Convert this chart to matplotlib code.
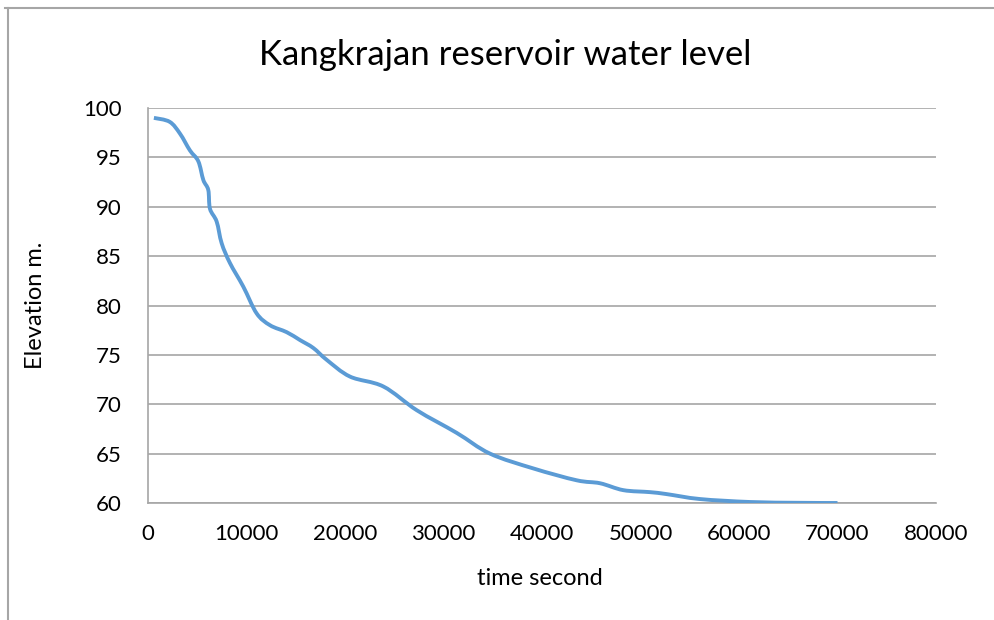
import matplotlib
matplotlib.use('Agg')
import matplotlib.pyplot as plt
from matplotlib.lines import Line2D
from matplotlib.path import Path
from matplotlib.patches import PathPatch

# Reservoir water level readings (time in seconds, elevation in m)
time_s = [600, 2200, 3250, 4260, 5110, 5620, 6120, 6290, 6970, 7480, 8320,
          9680, 11030, 12390, 14080, 15430, 16780, 18140, 20510, 23890,
          27280, 31340, 34720, 39120, 43520, 45890, 48260, 50960, 52660,
          56040, 61120, 66000, 70000]
elevation = [99.0, 98.6, 97.4, 95.7, 94.6, 92.7, 91.7, 89.8, 88.5, 86.3, 84.3,
             81.9, 79.2, 78.0, 77.3, 76.5, 75.7, 74.5, 72.8, 71.8,
             69.4, 67.1, 65.0, 63.5, 62.3, 62.0, 61.3, 61.1, 60.9,
             60.4, 60.1, 60.02, 60.0]

x_ticks = list(range(0, 80001, 10000))
y_ticks = list(range(60, 101, 5))

plt.rcParams['font.family'] = ['Lato', 'DejaVu Sans']

fig = plt.figure(figsize=(9.95, 6.2), dpi=100)
ax = fig.add_axes([148 / 995, 117 / 620, 788 / 995, 395 / 620])


# Excel-style smoothed line: Catmull-Rom segments drawn as cubic Beziers
def smooth_path(xs, ys, k=1 / 6):
    verts = [(xs[0], ys[0])]
    codes = [Path.MOVETO]
    n = len(xs)
    for i in range(n - 1):
        x0, y0 = xs[max(i - 1, 0)], ys[max(i - 1, 0)]
        x1, y1 = xs[i], ys[i]
        x2, y2 = xs[i + 1], ys[i + 1]
        x3, y3 = xs[min(i + 2, n - 1)], ys[min(i + 2, n - 1)]
        c1 = (x1 + (x2 - x0) * k, y1 + (y2 - y0) * k)
        c2 = (x2 - (x3 - x1) * k, y2 - (y3 - y1) * k)
        verts += [c1, c2, (x2, y2)]
        codes += [Path.CURVE4] * 3
    return Path(verts, codes)


ax.add_patch(PathPatch(smooth_path(time_s, elevation), facecolor='none',
                       edgecolor='#5B9BD5', lw=2.8, capstyle='butt', zorder=3))

ax.set_xlim(0, 80000)
ax.set_ylim(60, 100)
ax.set_xticks(x_ticks)
ax.set_yticks(y_ticks)
ax.tick_params(length=0, labelsize=16, colors='black')
ax.tick_params(axis='y', pad=19)
ax.tick_params(axis='x', pad=15)

ax.grid(axis='y', color='#a6a6a6', lw=1.2)
ax.set_axisbelow(True)
for side in ['top', 'right']:
    ax.spines[side].set_visible(False)
for side in ['left', 'bottom']:
    ax.spines[side].set_color('#a6a6a6')
    ax.spines[side].set_linewidth(1.2)

ax.set_xlabel('time second', fontsize=17)
ax.set_ylabel('Elevation m.', fontsize=17)
ax.xaxis.set_label_coords(0.497, -0.19)
ax.yaxis.set_label_coords(-0.143, 0.501)
ax.xaxis.label.set_va('center')
ax.yaxis.label.set_va('center')
fig.text(505 / 995, 1 - 55 / 620, 'Kangkrajan reservoir water level',
         ha='center', va='center', fontsize=25)

# chart area border (only top and left edges visible)
fig.add_artist(Line2D([5 / 995, 1], [1 - 8 / 620, 1 - 8 / 620], color='#a6a6a6', lw=1.5))
fig.add_artist(Line2D([8 / 995, 8 / 995], [0, 1 - 8 / 620], color='#a6a6a6', lw=1.5))

fig.savefig('out.png', dpi=100)
